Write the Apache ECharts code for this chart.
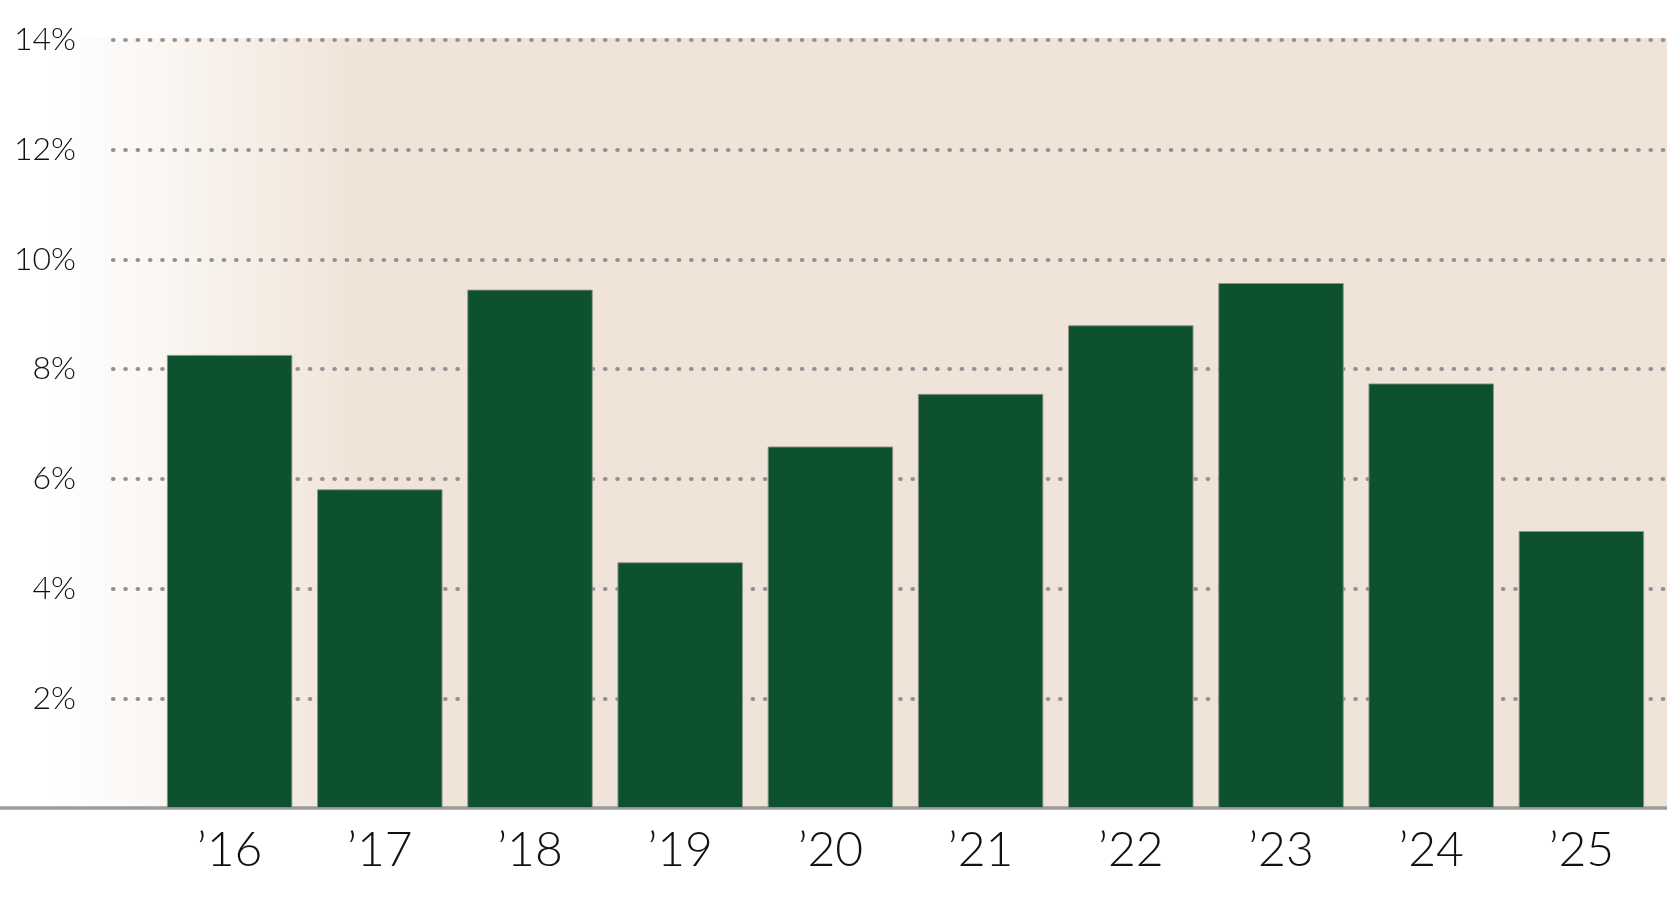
<!DOCTYPE html>
<html>
<head>
<meta charset="utf-8">
<title>Annual rate</title>
<script src="https://cdn.jsdelivr.net/npm/echarts@6/dist/echarts.min.js"></script>
<style>
  html, body { margin: 0; padding: 0; background: #fff; }
  #main { width: 1667px; height: 903px; }
</style>
</head>
<body>
<div id="main"></div>
<script>
// data
const years = ['’16', '’17', '’18', '’19', '’20', '’21', '’22', '’23', '’24', '’25']
const rates = [8.26, 5.81, 9.45, 4.48, 6.59, 7.55, 8.80, 9.57, 7.74, 5.05]
const yMin = 0
const yMax = 14
const yStep = 2

const beige = '#F0E3D7'
const green = '#0E512E'
const dotGray = '#929296'
const labelFont = 'Lato, "Open Sans", sans-serif'

const chart = echarts.init(document.getElementById('main'))

const option = {
  animation: false,
  grid: [
    // 0: background band + baseline
    { left: 0, right: 0, top: 38, bottom: 95, show: true, borderWidth: 0,
      backgroundColor: {
        type: 'linear', x: 0, y: 0, x2: 1, y2: 0,
        colorStops: [
          { offset: 0, color: '#ffffff' },
          { offset: 0.03, color: '#ffffff' },
          { offset: 0.1, color: '#faf6f2' },
          { offset: 0.22, color: beige },
          { offset: 1, color: beige }
        ]
      } },
    // 1: dotted gridlines and y labels
    { left: 113, right: 0, top: 40, bottom: 95 },
    // 2: bars
    { left: 154.5, right: 10.5, top: 40, bottom: 95 }
  ],
  xAxis: [
    { gridIndex: 0, type: 'value', min: 0, max: 1, show: true,
      axisLine: { show: true, lineStyle: { color: '#9b9b9b', width: 3.5 } },
      axisTick: { show: false }, axisLabel: { show: false }, splitLine: { show: false } },
    { gridIndex: 1, type: 'value', min: 0, max: 1, show: false },
    { gridIndex: 2, type: 'category', data: years,
      axisLine: { show: false }, axisTick: { show: false },
      axisLabel: { color: '#111', fontFamily: labelFont, fontWeight: 300, fontSize: 48,
        margin: 43, verticalAlign: 'middle' } }
  ],
  yAxis: [
    { gridIndex: 0, type: 'value', min: 0, max: 1, show: false },
    { gridIndex: 1, type: 'value', min: yMin, max: yMax, interval: yStep,
      axisLine: { show: false }, axisTick: { show: false },
      axisLabel: { color: '#111', fontFamily: labelFont, fontWeight: 300, fontSize: 32,
        margin: 37, showMinLabel: false,
        formatter: v => v === 0 ? '' : v + '%' },
      splitLine: { show: true, showMinLine: false,
        lineStyle: { color: dotGray, width: 4.2, type: [0.5, 11.8], cap: 'round' } } },
    { gridIndex: 2, type: 'value', min: yMin, max: yMax, show: false }
  ],
  series: [{
    type: 'bar',
    xAxisIndex: 2,
    yAxisIndex: 2,
    data: rates,
    barWidth: 125.5,
    itemStyle: { color: green, borderColor: 'rgba(140,150,140,0.9)', borderWidth: 1 }
  }]
}

chart.setOption(option)
</script>
</body>
</html>
